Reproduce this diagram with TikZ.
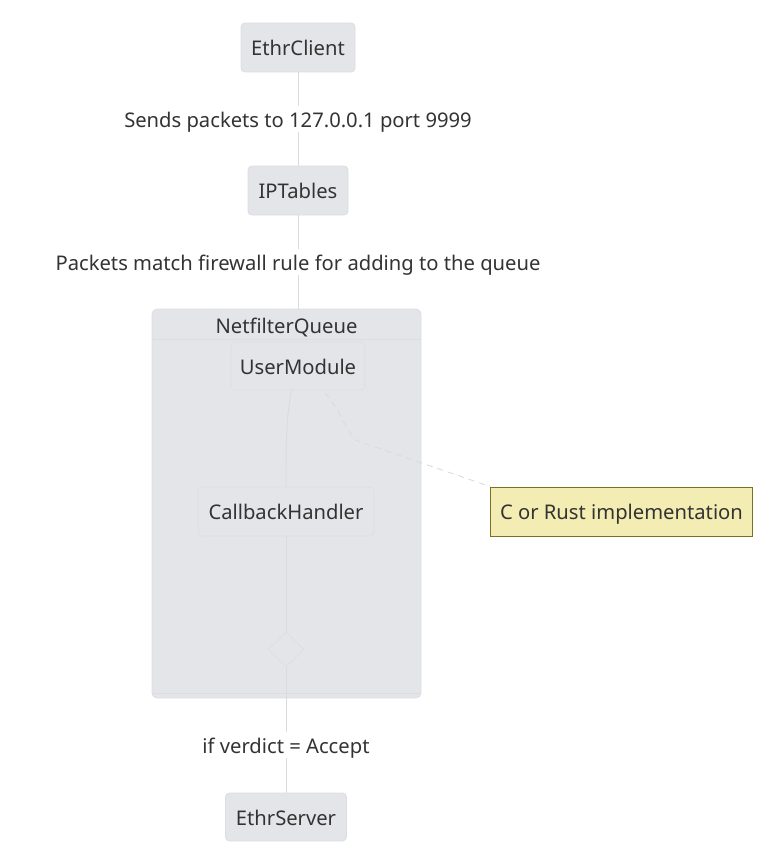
\documentclass[tikz,border=0pt]{standalone}
\usepackage{fontspec}
\setmainfont{Noto Sans}
\usetikzlibrary{shapes.geometric}
\definecolor{nodefill}{HTML}{E4E5E9}
\definecolor{nodeline}{HTML}{DCDDE1}
\definecolor{edgecol}{HTML}{DADBDF}
\definecolor{txt}{HTML}{333333}
\definecolor{notefill}{HTML}{F3EDB3}
\definecolor{noteline}{HTML}{7A6F22}
\tikzset{
  tfont/.style={font=\fontsize{20.2}{22}\selectfont, text height=16pt, text depth=0pt},
  statebox/.style={draw=nodeline, fill=nodefill, rounded corners=4pt, line width=0.8pt, text=txt,
    minimum height=49pt, inner xsep=9pt, tfont, anchor=center},
  innerbox/.style={statebox, draw=nodeline!80!nodefill},
  edge/.style={draw=edgecol, line width=0.9pt},
  elabel/.style={fill=white, text=txt, inner xsep=2pt, inner ysep=5pt, tfont},
  notebox/.style={draw=noteline, fill=notefill, line width=0.9pt, text=txt,
    minimum width=262pt, minimum height=49pt, tfont},
}
\begin{document}
\begin{tikzpicture}[x=1pt,y=-1pt]
\useasboundingbox (0,0) rectangle (773,859);
% cluster
\node[draw=nodeline, fill=nodefill, rounded corners=5pt, line width=0.8pt, minimum width=269pt, minimum height=389pt, inner sep=0pt] (cluster) at (286.5,503.5) {};
\draw[nodeline, line width=0.8pt] (152.5,339) -- (420.5,339);
\draw[nodeline, line width=0.8pt] (152.5,693) -- (420.5,693);
\node[text=txt, tfont] (ctitle) at (286.5,325.5) {NetfilterQueue};
% nodes
\node[statebox, minimum width=114pt] (client) at (298,47.5) {EthrClient};
\node[statebox, minimum width=100pt] (ipt) at (298,190.5) {IPTables};
\node[innerbox, minimum width=134pt, minimum height=48pt] (um) at (298,366) {UserModule};
\node[innerbox, minimum width=176pt] (cb) at (286,511.5) {CallbackHandler};
\node[diamond, draw=nodeline!80!nodefill, fill=nodefill, line width=0.8pt, minimum width=36pt, minimum height=35pt, inner sep=0pt] (choice) at (286,649.5) {};
\node[statebox, minimum width=121pt, minimum height=48pt] (server) at (286,817) {EthrServer};
\node[notebox] (note) at (621.5,511.5) {C or Rust implementation};
% edges
\coordinate (ctop) at (298,309);
\path[edge] (client.south) -- node[elabel, pos=0.5] {Sends packets to 127.0.0.1 port 9999} (ipt.north);
\path[edge] (ipt.south) -- node[elabel, pos=0.5] {Packets match firewall rule for adding to the queue} (ctop);
\draw[edge] (291.5,390) .. controls (286,420) and (286,440) .. (cb.north);
\draw[edge] (cb.south) -- (choice.north);
\path[edge] (choice.south) -- node[elabel, pos=0.62] {if verdict = Accept} (server.north);
\draw[edge, dashed, dash pattern=on 6pt off 5pt] (325,393) .. controls (340,410) and (345,428) .. (355,440) -- (note.north west);
\end{tikzpicture}
\end{document}
